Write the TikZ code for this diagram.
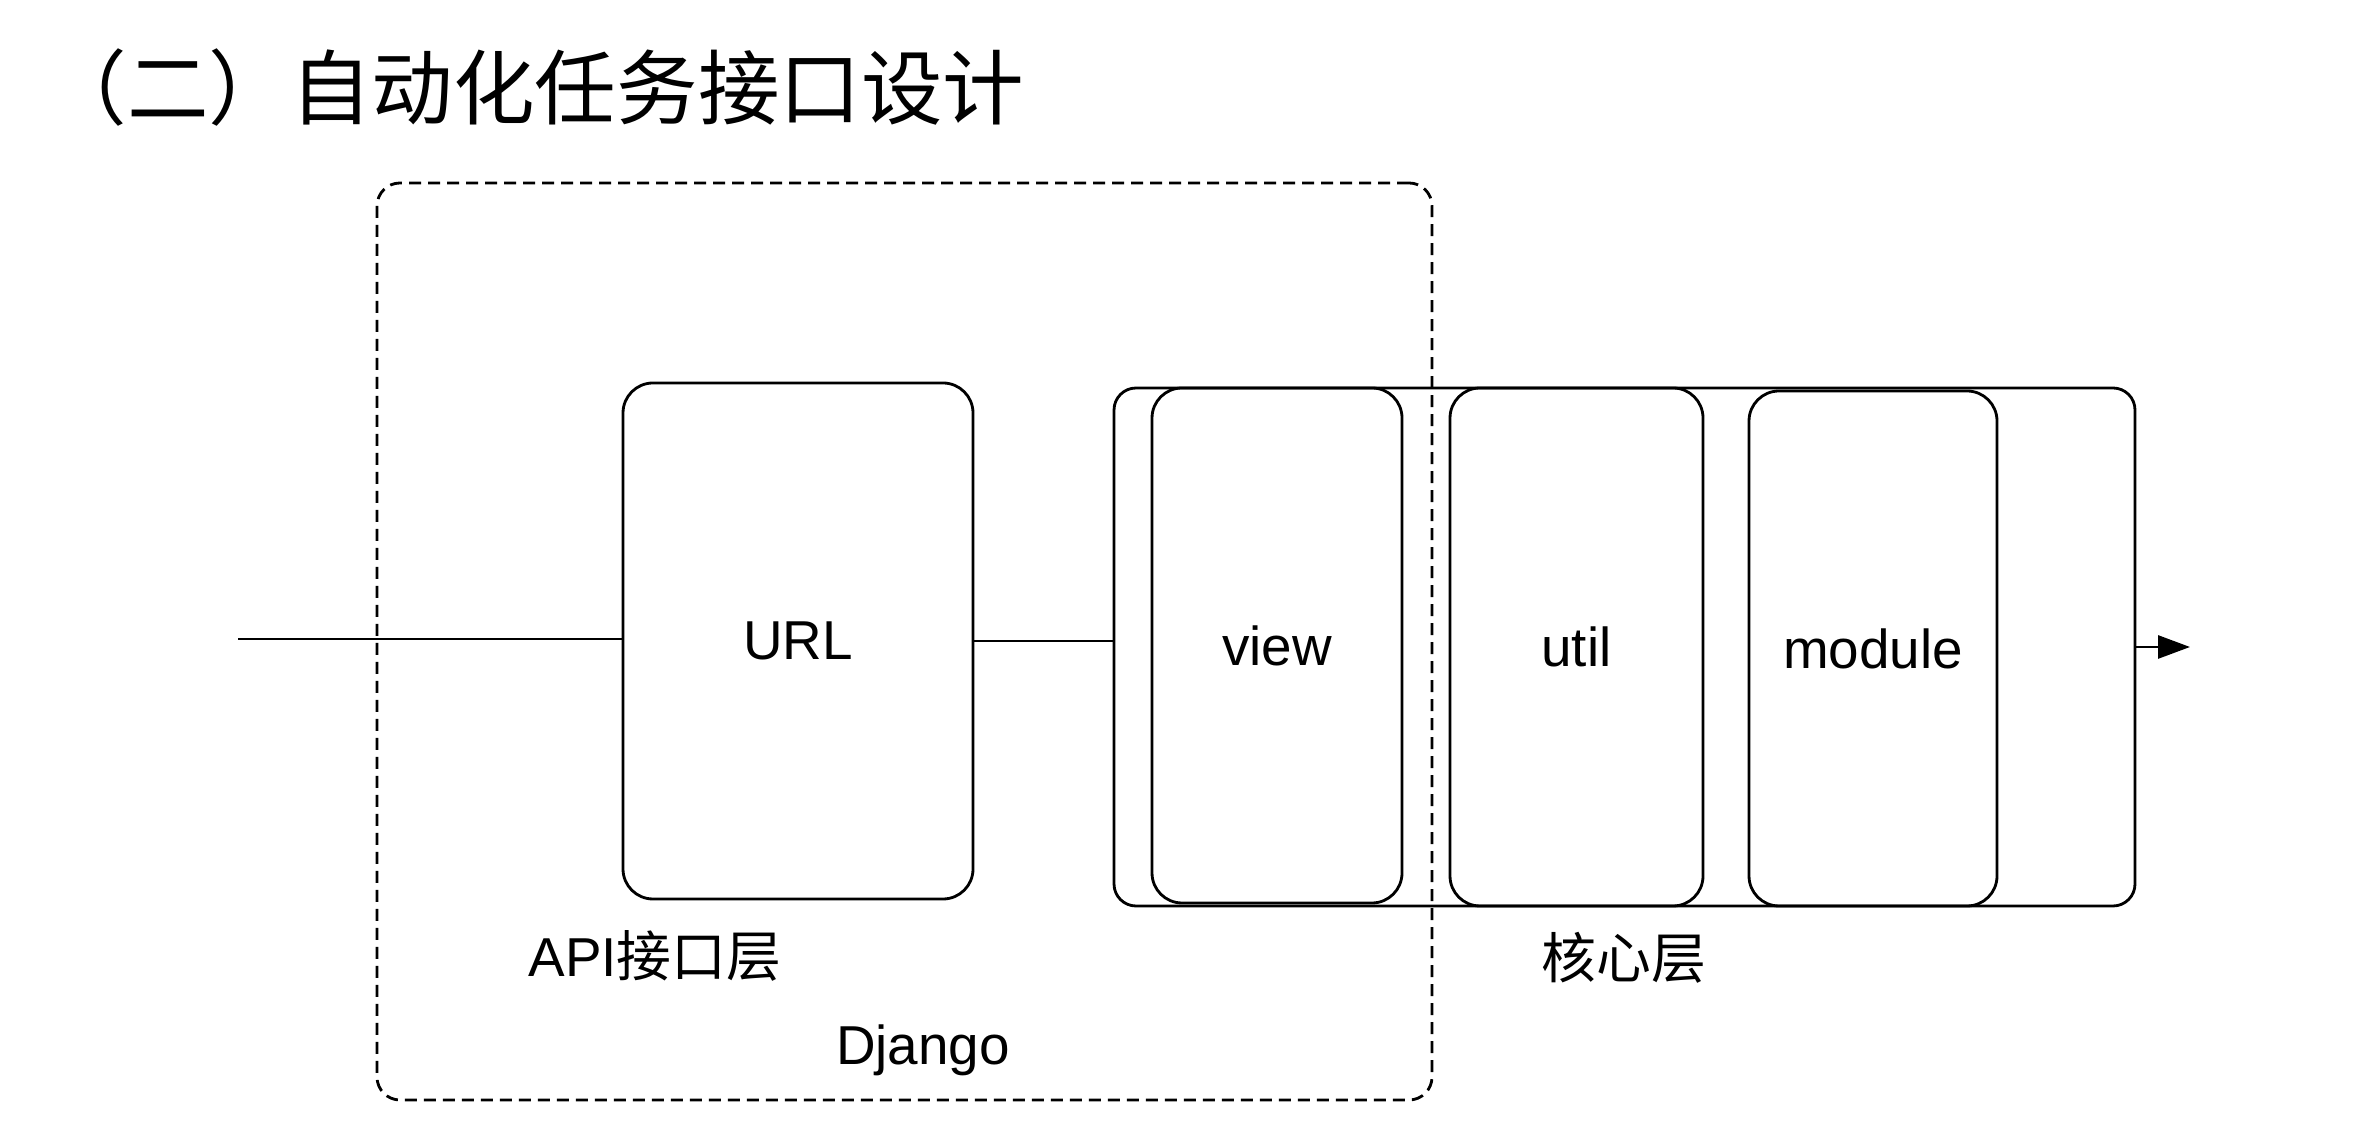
\documentclass[tikz,border=0pt]{standalone}
\usepackage{fontspec}
\setmainfont{Liberation Sans}
\newfontfamily\cjk{Noto Sans CJK SC}
\usetikzlibrary{arrows.meta}

\begin{document}
\begin{tikzpicture}[
    box/.style={draw=black,line width=0.8pt,rounded corners=0.3cm,inner sep=0pt,font=\fontsize{15.6}{18}\selectfont},
    lbl/.style={inner sep=0pt,font=\fontsize{15.6}{18}\selectfont}]
    \useasboundingbox (0,0) rectangle (23.76,11.26);
    \node[anchor=west,inner sep=0pt,font=\cjk\fontsize{23.2}{26}\selectfont] (title) at (0.45,10.38) {（二）自动化任务接口设计};
    \node[draw=black,line width=0.8pt,dash pattern=on 0.12cm off 0.07cm,rounded corners=0.23cm,minimum width=10.55cm,minimum height=9.17cm] (django) at (9.045,4.845) {};
    \node[box,minimum width=3.50cm,minimum height=5.16cm] (url) at (7.98,4.85) {URL};
    \node[box,rounded corners=0.22cm,minimum width=10.21cm,minimum height=5.18cm] (core) at (16.245,4.79) {};
    \node[box,minimum width=2.50cm,minimum height=5.15cm] (view) at (12.77,4.805) {view};
    \node[box,minimum width=2.53cm,minimum height=5.18cm] (util) at (15.765,4.79) {util};
    \node[box,minimum width=2.48cm,minimum height=5.15cm] (module) at (18.73,4.775) {module};
    \coordinate (in) at (2.38,4.87);
    \coordinate (out) at (21.90,4.79);
    \draw[line width=0.8pt] (in) -- (in -| url.west);
    \draw[line width=0.8pt] (url.east) -- (url.east -| core.west);
    \draw[line width=0.8pt,-{Triangle[length=3.2mm,width=2.3mm]}] (core.east) -- (out);
    \node[lbl] (api) at (6.55,1.70) {API{\cjk 接口层}};
    \node[lbl] (corelbl) at (16.24,1.68) {\cjk 核心层};
    \node[lbl] (djangolbl) at (9.23,0.76) {Django};
\end{tikzpicture}
\end{document}
